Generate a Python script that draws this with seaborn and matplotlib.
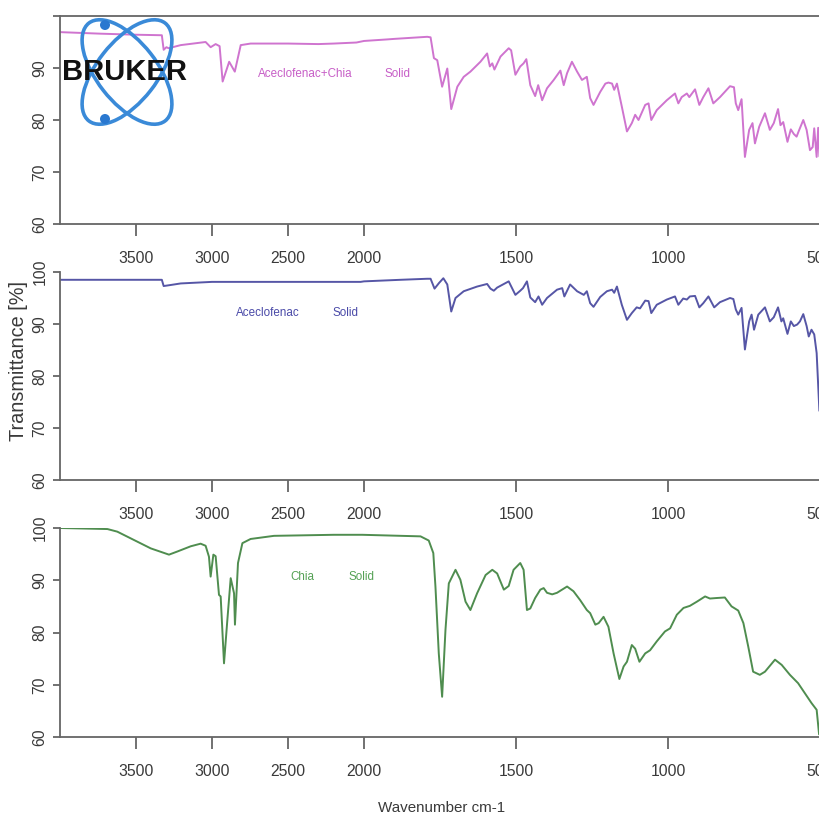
import numpy as np
import matplotlib
matplotlib.use("Agg")
import matplotlib.pyplot as plt
import seaborn as sns
from matplotlib import font_manager
from matplotlib.patches import Ellipse, Circle
from matplotlib.transforms import IdentityTransform

# ---------------- data ----------------
mix_wn = [4000, 3733, 3500, 3330, 3318, 3300, 3285, 3206, 3042, 3009,
          2976, 2950, 2930, 2887, 2850, 2811, 2746, 2500, 2300, 2200,
          2050, 2000, 1923, 1900, 1792, 1781, 1770, 1759, 1743, 1726,
          1713, 1693, 1672, 1650, 1617, 1595, 1586, 1578, 1571, 1551,
          1524, 1516, 1502, 1486, 1475, 1466, 1453, 1437, 1427, 1414,
          1398, 1376, 1354, 1343, 1332, 1316, 1299, 1283, 1267, 1256,
          1245, 1223, 1206, 1196, 1184, 1177, 1168, 1152, 1135, 1119,
          1108, 1097, 1075, 1064, 1055, 1037, 1004, 977, 966, 955,
          938, 930, 911, 897, 884, 867, 851, 829, 796, 783,
          777, 769, 758, 747, 733, 722, 714, 700, 681, 665,
          652, 638, 630, 621, 607, 596, 586, 577, 569, 555,
          544, 533, 524, 519, 511, 506, 502]
mix_t = [96.9, 96.6, 96.4, 96.3, 93.5, 94.0, 93.8, 94.4, 95.0, 94.0,
         94.6, 94.2, 87.4, 91.2, 89.3, 94.4, 94.7, 94.7, 94.6, 94.7,
         94.9, 95.2, 95.5, 95.6, 96.0, 95.9, 91.9, 91.5, 86.4, 89.9,
         82.1, 86.4, 88.3, 89.3, 91.2, 92.8, 90.3, 90.9, 89.7, 92.2,
         93.8, 93.4, 88.7, 90.3, 90.9, 91.7, 86.7, 84.6, 86.7, 83.8,
         86.1, 87.7, 89.5, 86.7, 89.0, 91.2, 89.3, 87.7, 88.3, 84.2,
         82.9, 85.4, 87.0, 87.2, 87.0, 85.8, 87.0, 82.6, 77.8, 79.4,
         81.0, 80.0, 82.9, 83.2, 80.0, 81.9, 83.8, 85.1, 83.2, 84.4,
         85.1, 84.4, 85.9, 82.9, 84.4, 86.1, 83.2, 84.4, 86.5, 86.3,
         83.2, 81.9, 84.0, 72.9, 78.1, 79.4, 75.5, 78.7, 81.3, 78.1,
         79.4, 82.1, 79.0, 79.6, 75.8, 78.2, 77.3, 76.8, 78.0, 80.0,
         78.1, 74.2, 74.8, 78.4, 72.9, 78.5, 73.0]

acf_wn = [4000, 3330, 3318, 3272, 3206, 3000, 2500, 2022, 2000, 1880,
          1792, 1781, 1768, 1753, 1739, 1726, 1713, 1699, 1672, 1628,
          1595, 1584, 1573, 1562, 1524, 1502, 1486, 1477, 1464, 1453,
          1437, 1426, 1414, 1398, 1365, 1348, 1341, 1322, 1299, 1277,
          1267, 1256, 1245, 1223, 1201, 1184, 1177, 1168, 1152, 1135,
          1119, 1103, 1092, 1075, 1064, 1055, 1037, 1004, 977, 966,
          950, 938, 928, 911, 897, 884, 867, 848, 829, 796,
          785, 777, 769, 758, 747, 733, 725, 717, 703, 681,
          665, 652, 638, 627, 621, 607, 596, 586, 575, 566,
          555, 544, 537, 528, 519, 511, 502]
acf_t = [98.5, 98.5, 97.3, 97.5, 97.8, 98.1, 98.1, 98.1, 98.2, 98.5,
         98.7, 98.7, 96.8, 97.9, 98.8, 97.6, 92.4, 95.0, 96.3, 97.2,
         97.7, 96.8, 96.4, 97.0, 98.2, 95.6, 96.4, 96.9, 98.2, 95.1,
         94.2, 95.3, 93.7, 95.0, 96.6, 96.9, 95.3, 97.6, 96.3, 95.6,
         96.3, 94.0, 93.3, 95.2, 96.3, 96.6, 96.0, 97.2, 93.7, 90.8,
         92.1, 93.2, 93.0, 94.5, 94.4, 92.1, 93.7, 94.7, 95.3, 93.7,
         94.9, 94.7, 95.3, 95.4, 93.2, 94.0, 95.3, 93.2, 94.2, 95.0,
         94.8, 92.8, 91.8, 93.1, 85.1, 90.5, 91.8, 88.9, 91.8, 93.2,
         90.5, 91.3, 93.2, 90.5, 91.1, 88.1, 90.5, 89.6, 89.9, 90.5,
         91.9, 89.6, 87.6, 88.9, 88.0, 84.4, 73.3]

chia_wn = [4000, 3688, 3623, 3513, 3403, 3283, 3228, 3140, 3075, 3042,
           3020, 3009, 2991, 2976, 2954, 2943, 2921, 2899, 2877, 2855,
           2849, 2829, 2800, 2746, 2592, 2199, 2011, 1814, 1787, 1772,
           1765, 1754, 1743, 1732, 1721, 1699, 1683, 1666, 1650, 1628,
           1600, 1578, 1562, 1540, 1524, 1508, 1486, 1475, 1464, 1453,
           1437, 1420, 1409, 1398, 1381, 1365, 1332, 1311, 1289, 1267,
           1256, 1239, 1228, 1212, 1196, 1179, 1160, 1146, 1135, 1119,
           1108, 1094, 1075, 1059, 1037, 1010, 993, 971, 949, 928,
           905, 878, 862, 840, 813, 791, 769, 752, 736, 720,
           698, 681, 648, 626, 599, 572, 550, 528, 511, 503]
chia_t = [100.0, 99.8, 99.3, 97.7, 96.1, 94.9, 95.5, 96.5, 97.0, 96.6,
          94.5, 90.7, 94.9, 94.6, 87.2, 86.9, 74.1, 82.4, 90.4, 87.5,
          81.5, 93.3, 97.1, 97.9, 98.5, 98.7, 98.7, 98.4, 97.6, 95.2,
          88.8, 76.0, 67.7, 80.5, 89.4, 92.0, 90.1, 85.9, 84.3, 87.5,
          91.0, 92.0, 91.3, 88.2, 88.9, 92.0, 93.3, 92.0, 84.3, 84.6,
          86.6, 88.2, 88.5, 87.6, 87.3, 87.6, 88.8, 87.9, 86.2, 84.3,
          83.7, 81.5, 81.8, 83.0, 81.1, 76.0, 71.1, 73.5, 74.4, 77.6,
          76.9, 74.4, 76.0, 76.6, 78.3, 80.2, 80.8, 83.4, 84.7, 85.1,
          85.9, 86.9, 86.5, 86.6, 86.7, 85.0, 84.2, 81.8, 77.3, 72.5,
          71.9, 72.5, 74.8, 73.8, 71.9, 70.3, 68.4, 66.5, 65.2, 60.5]

sample_names = ["Aceclofenac+Chia", "Aceclofenac", "Chia"]
state_label = "Solid"
xtick_vals = [3500, 3000, 2500, 2000, 1500, 1000, 500]
xtick_labels = ["3500", "3000", "2500", "2000", "1500", "1000", "500"]
ytick_vals = [60, 70, 80, 90, 100]
ytick_labels = ["60", "70", "80", "90", "100"]
x_title = "Wavenumber cm-1"
y_title = "Transmittance [%]"
logo_text = "BRUKER"

# ---------------- style ----------------
sns.set_theme(style="white")
avail = {f.name for f in font_manager.fontManager.ttflist}
narrow = "Liberation Sans Narrow" in avail
base = "Liberation Sans" if "Liberation Sans" in avail else "DejaVu Sans"
FONT = "Liberation Sans Narrow" if narrow else base
plt.rcParams["font.family"] = [FONT, "DejaVu Sans"]
k = 1.0 if narrow else 0.84

W, H = 820, 819
fig = plt.figure(figsize=(W / 100, H / 100), dpi=100)
fig.patch.set_facecolor("white")


def rect(top_px, bot_px):
    return [60 / W, 1 - bot_px / H, 760 / W, (bot_px - top_px) / H]


def fwd(x):
    x = np.asarray(x, dtype=float)
    return np.where(x > 2000, 2000 + (x - 2000) / 2.0, x)


def inv(u):
    u = np.asarray(u, dtype=float)
    return np.where(u > 2000, 2000 + (u - 2000) * 2.0, u)


panels = [
    (rect(16, 224), mix_wn, mix_t, "#cf74cf", "#c75ec7",
     [(sample_names[0], 0.2605), (state_label, 0.4276)], 0.721),
    (rect(272, 480), acf_wn, acf_t, "#5656a6", "#4a4aa8",
     [(sample_names[1], 0.2316), (state_label, 0.359)], 0.803),
    (rect(528, 737), chia_wn, chia_t, "#4f8d4f", "#55a155",
     [(sample_names[2], 0.3026), (state_label, 0.379)], 0.766),
]

spine_c = "#666666"
for i, (r, wn, tt, lc, tc, labels, ly) in enumerate(panels):
    ax = fig.add_axes(r)
    sns.lineplot(x=wn, y=tt, ax=ax, color=lc, linewidth=1.4,
                 estimator=None, sort=True)
    ax.set_xscale("function", functions=(fwd, inv))
    ax.set_xlim(4000, 500)
    ax.set_ylim(60, 100)
    ax.set_xlabel("")
    ax.set_ylabel("")
    ax.set_facecolor("white")
    for s in ["left", "bottom", "top", "right"]:
        ax.spines[s].set_color(spine_c)
        ax.spines[s].set_linewidth(1.3)
    ax.spines["right"].set_visible(False)
    ax.spines["top"].set_visible(i == 0)
    ax.set_xticks(xtick_vals)
    ax.set_xticklabels(xtick_labels)
    ax.set_yticks(ytick_vals)
    ylabs = list(ytick_labels)
    if i == 0:
        ylabs[-1] = ""
    ax.set_yticklabels(ylabs)
    ax.minorticks_off()
    ax.tick_params(axis="x", bottom=True, direction="out", length=8.6,
                   width=1.3, color=spine_c, pad=11, labelsize=13.5 * k,
                   labelcolor="#3a3a3a")
    ax.tick_params(axis="y", left=True, direction="out", length=5,
                   width=1.3, color=spine_c, pad=4, labelsize=13.5 * k,
                   labelcolor="#3a3a3a", labelrotation=90)
    for lab in ax.get_yticklabels():
        lab.set_verticalalignment("center")
        lab.set_horizontalalignment("right")
    for txt, lx in labels:
        ax.text(lx, ly, txt, transform=ax.transAxes, ha="left", va="center",
                fontsize=10 * k, color=tc)

fig.text(0.022, 1 - 361 / H, y_title, rotation=90, ha="center", va="center",
         fontsize=17 * k, color="#3a3a3a")
fig.text(441.5 / W, 1 - 808 / H, x_title, ha="center", va="center",
         fontsize=13 * k, color="#3a3a3a")

# ---------------- logo ----------------
idt = IdentityTransform()
for ang in (52, -52):
    fig.add_artist(Ellipse((127, H - 72), width=124, height=60, angle=ang,
                           transform=idt, fill=False, edgecolor="#3a8ad8",
                           linewidth=2.6, zorder=5))
for cy in (25, 119):
    fig.add_artist(Circle((105, H - cy), radius=5, transform=idt,
                          facecolor="#2a78d0", edgecolor="none", zorder=6))
fig.text(125 / W, 1 - 72 / H, logo_text, ha="center", va="center",
         fontsize=21, fontweight="bold", family=[base, "DejaVu Sans"],
         color="#111111", zorder=7)

fig.savefig("out.png", dpi=100, facecolor="white")
